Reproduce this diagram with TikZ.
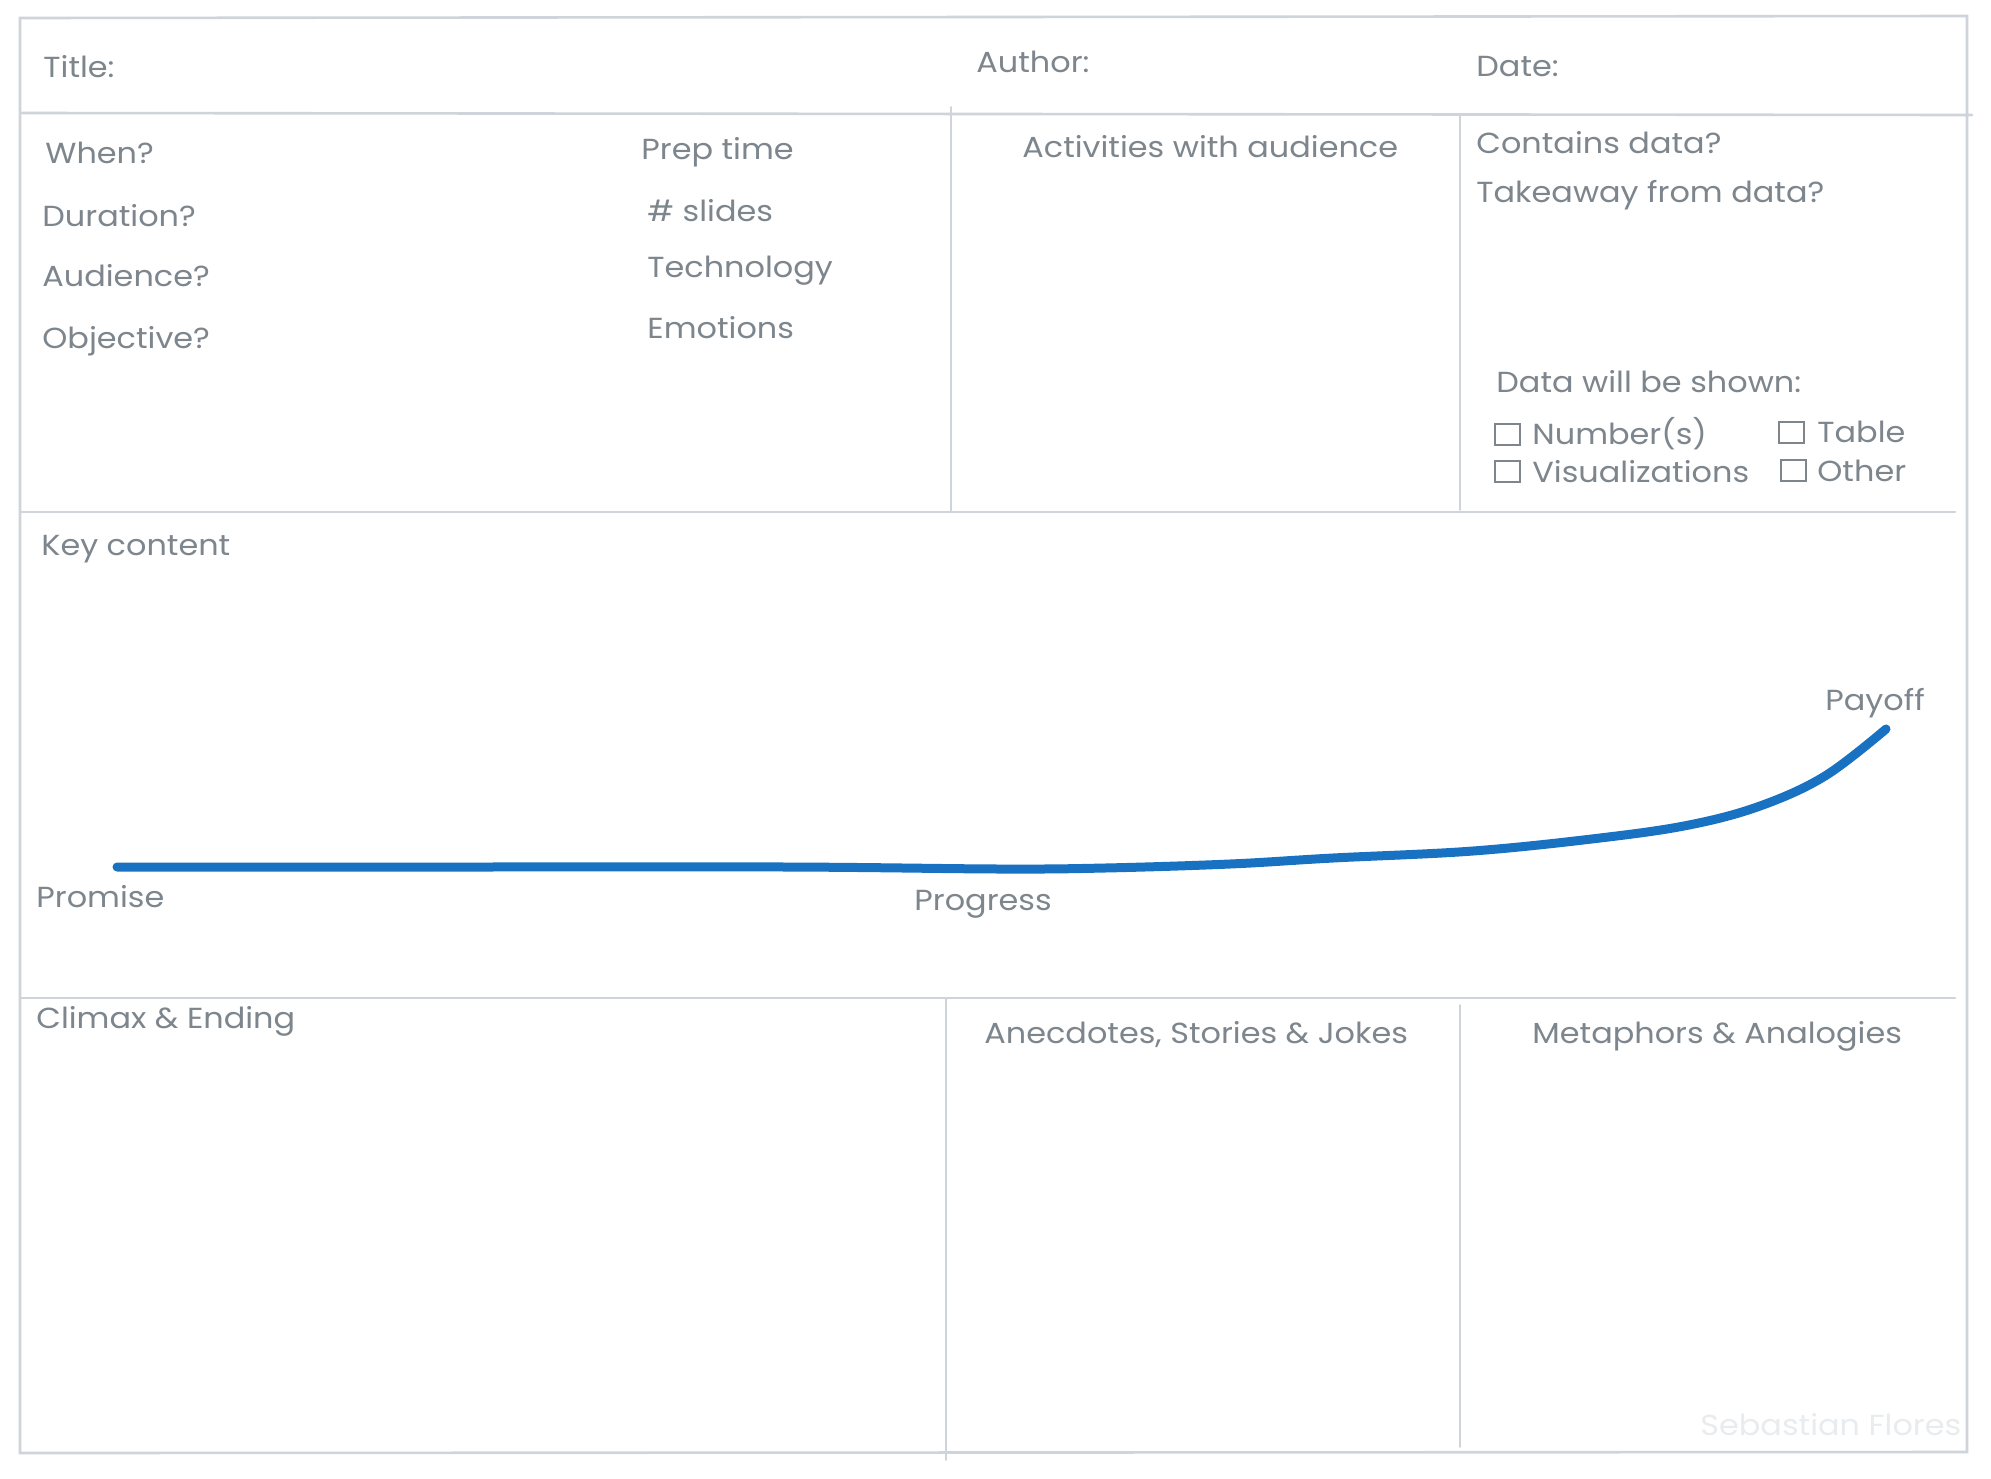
\documentclass[tikz,border=0pt]{standalone}
\usepackage{fontspec}
\setmainfont[FakeStretch=1.1]{Poppins}
\definecolor{txt}{HTML}{7D858D}
\definecolor{rule}{HTML}{CED4DA}
\definecolor{wmark}{HTML}{E9ECEF}
\definecolor{curveblue}{HTML}{1971C2}
\begin{document}
\begin{tikzpicture}[x=0.5pt,y=-0.5pt,
  lbl/.style={anchor=base west,inner sep=0pt,text=txt,font=\fontsize{14.5pt}{17pt}\selectfont},
  frame/.style={draw=rule,line width=1.3pt,line cap=round},
  thin/.style={draw=rule,line width=0.8pt,line cap=round},
  checkbox/.style={draw=txt,line width=0.9pt,minimum width=12.5pt,minimum height=10.5pt,inner sep=0pt,anchor=north west}]
\useasboundingbox[fill=white] (0,0) rectangle (1991,1478);
% frame and separators
\draw[frame] (20,18) -- (1967,16) -- (1967,1452) -- (20,1453) -- cycle;
\draw[frame] (22,113) -- (1972,115);
\draw[frame] (20,512) -- (1955,512);
\draw[frame] (20,998) -- (1955,998);
\draw[thin] (951,107) -- (951,512);
\draw[thin] (1460,115) -- (1460,510);
\draw[thin] (946,998) -- (946,1460);
\draw[thin] (1460,1005) -- (1460,1447);
% header
\node[lbl] (title) at (43,77) {Title:};
\node[lbl] (author) at (976,72) {Author:};
\node[lbl] (date) at (1476,76) {Date:};
% section 2
\node[lbl] (when) at (45,163) {When?};
\node[lbl] (duration) at (42,226) {Duration?};
\node[lbl] (audience) at (42,286) {Audience?};
\node[lbl] (objective) at (42,348) {Objective?};
\node[lbl] (prep) at (641,159) {Prep time};
\node[lbl] (slides) at (647,221) {\# slides};
\node[lbl] (tech) at (647,277) {Technology};
\node[lbl] (emo) at (647,338) {Emotions};
\node[lbl] (activities) at (1022,157) {Activities with audience};
\node[lbl] (contains) at (1476,153) {Contains data?};
\node[lbl] (takeaway) at (1476,202) {Takeaway from data?};
\node[lbl] (shown) at (1496,392) {Data will be shown:};
\node[checkbox] (cb1) at (1494,423) {};
\node[lbl] (numbers) at (1532,444) {Number(s)};
\node[checkbox] (cb2) at (1778,421) {};
\node[lbl] (table) at (1817,442) {Table};
\node[checkbox] (cb3) at (1494,460) {};
\node[lbl] (vis) at (1532,482) {Visualizations};
\node[checkbox] (cb4) at (1780,459) {};
\node[lbl] (other) at (1817,481) {Other};
% key content
\node[lbl] (key) at (41,555) {Key content};
\node[lbl] (promise) at (36,907) {Promise};
\node[lbl] (progress) at (914,910) {Progress};
\node[lbl] (payoff) at (1825,710) {Payoff};
\coordinate (cstart) at (117,867);
\coordinate (cend) at (1886,729);
\draw[curveblue,line width=4.5pt,line cap=round,line join=round]
  plot[smooth,tension=0.6] coordinates {(cstart) (450,867) (787,867) (1000,869) (1105,868) (1230,864) (1333,858) (1473,851) (1600,838) (1689,825) (1760,806) (1825,776) (cend)};
% bottom
\node[lbl] (climax) at (36,1028) {Climax \& Ending};
\node[lbl] (anecdotes) at (984,1043) {Anecdotes, Stories \& Jokes};
\node[lbl] (metaphors) at (1532,1043) {Metaphors \& Analogies};
\node[lbl,text=wmark] (wm) at (1700,1435) {Sebastian Flores};
\end{tikzpicture}
\end{document}
